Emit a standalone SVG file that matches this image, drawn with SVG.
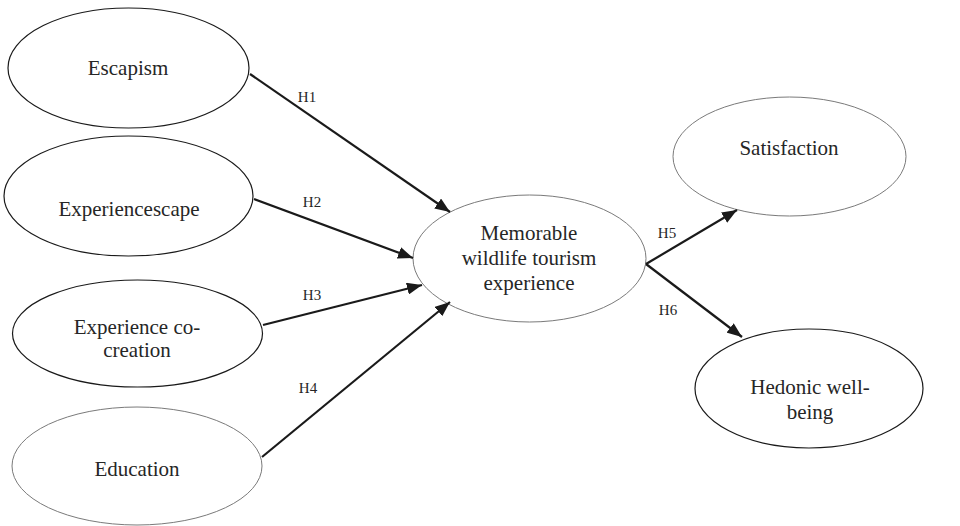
<svg xmlns="http://www.w3.org/2000/svg" width="960" height="526" viewBox="0 0 960 526">
<style>
.bg{fill:#fff}
.n{fill:#fff;stroke:#1a1a1a;stroke-width:1.2}
.n.lt{stroke:#7a7a7a;stroke-width:1}
.t{font-family:"Liberation Serif","Times New Roman",serif;font-size:21px;fill:#262626;text-anchor:middle}
.h{font-family:"Liberation Serif","Times New Roman",serif;font-size:15px;fill:#262626;text-anchor:middle}
.c{stroke:#1a1a1a;stroke-width:2.2;fill:none;marker-end:url(#ah)}
</style>
<defs>
<marker id="ah" markerUnits="userSpaceOnUse" markerWidth="16" markerHeight="12" refX="15" refY="6" orient="auto">
<path d="M0,0 L15,6 L0,12 Z" fill="#1a1a1a"/>
</marker>
</defs>
<rect class="bg" width="960" height="526"/>
<g id="escapism"><ellipse class="n" cx="128.5" cy="68" rx="120.5" ry="60"/><text class="t" x="128" y="75">Escapism</text></g>
<g id="experiencescape"><ellipse class="n" cx="128.5" cy="196" rx="124.5" ry="60"/><text class="t" x="129" y="216">Experiencescape</text></g>
<g id="cocreation"><ellipse class="n" cx="137.5" cy="333.5" rx="125" ry="53.5"/><text class="t" x="137" y="334">Experience co-</text><text class="t" x="137" y="357">creation</text></g>
<g id="education"><ellipse class="n lt" cx="137" cy="466" rx="125" ry="59"/><text class="t" x="137" y="476">Education</text></g>
<g id="memorable"><ellipse class="n lt" cx="529.5" cy="258.5" rx="116.5" ry="63.5"/><text class="t" x="529" y="240">Memorable</text><text class="t" x="529" y="265">wildlife tourism</text><text class="t" x="529" y="290">experience</text></g>
<g id="satisfaction"><ellipse class="n lt" cx="789.5" cy="156.5" rx="116.5" ry="59.5"/><text class="t" x="789" y="155">Satisfaction</text></g>
<g id="hedonic"><ellipse class="n" cx="809" cy="388.5" rx="114" ry="59.5"/><text class="t" x="810" y="394">Hedonic well-</text><text class="t" x="810" y="419">being</text></g>
<g id="connectors">
<line class="c" x1="250" y1="74" x2="450" y2="212"/>
<line class="c" x1="254" y1="199" x2="413" y2="258"/>
<line class="c" x1="263" y1="325" x2="422" y2="285"/>
<line class="c" x1="262" y1="457" x2="450" y2="302"/>
<line class="c" x1="646" y1="264" x2="737" y2="210"/>
<line class="c" x1="646" y1="264" x2="742" y2="337"/>
<text class="h" x="307" y="102">H1</text>
<text class="h" x="312" y="207">H2</text>
<text class="h" x="312" y="300">H3</text>
<text class="h" x="308" y="393">H4</text>
<text class="h" x="667" y="238">H5</text>
<text class="h" x="668" y="315">H6</text>
</g>
</svg>
